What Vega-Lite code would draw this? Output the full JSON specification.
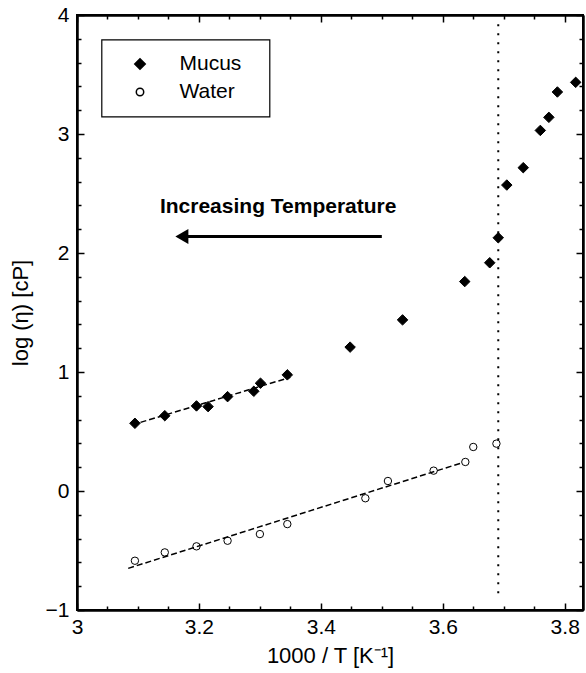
{
  "$schema": "https://vega.github.io/schema/vega-lite/v6.json",
  "width": 506,
  "height": 595,
  "autosize": {"type": "none"},
  "padding": {"left": 77, "top": 15, "right": 3, "bottom": 63},
  "background": "white",
  "config": {
    "font": "Liberation Sans",
    "view": {"stroke": "black", "strokeWidth": 2},
    "axis": {
      "grid": false,
      "domainColor": "black",
      "domainWidth": 2,
      "tickColor": "black",
      "tickWidth": 1.5,
      "labelColor": "black",
      "titleColor": "black",
      "labelFont": "Liberation Sans",
      "titleFont": "Liberation Sans",
      "labelFontSize": 21,
      "titleFontSize": 22,
      "titleFontWeight": "normal",
      "labelFlush": false
    },
    "legend": {
      "orient": "none",
      "legendX": 24.5,
      "legendY": 24.5,
      "strokeColor": "black",
      "strokeWidth": 1.2,
      "fillColor": "white",
      "padding": 14,
      "rowPadding": 6,
      "symbolOffset": 14,
      "labelOffset": 29,
      "labelFont": "Liberation Sans",
      "labelFontSize": 21,
      "labelColor": "black",
      "titleOrient": "right",
      "titlePadding": 14,
      "titleFontSize": 21
    }
  },
  "datasets": {
    "points": [
      {"series": "Mucus", "x": 3.095, "y": 0.569},
      {"series": "Mucus", "x": 3.144, "y": 0.633},
      {"series": "Mucus", "x": 3.196, "y": 0.715},
      {"series": "Mucus", "x": 3.215, "y": 0.709},
      {"series": "Mucus", "x": 3.247, "y": 0.793},
      {"series": "Mucus", "x": 3.290, "y": 0.838},
      {"series": "Mucus", "x": 3.301, "y": 0.906},
      {"series": "Mucus", "x": 3.345, "y": 0.976},
      {"series": "Mucus", "x": 3.448, "y": 1.209},
      {"series": "Mucus", "x": 3.534, "y": 1.438},
      {"series": "Mucus", "x": 3.636, "y": 1.760},
      {"series": "Mucus", "x": 3.677, "y": 1.918},
      {"series": "Mucus", "x": 3.691, "y": 2.128},
      {"series": "Mucus", "x": 3.705, "y": 2.571},
      {"series": "Mucus", "x": 3.732, "y": 2.717},
      {"series": "Mucus", "x": 3.760, "y": 3.030},
      {"series": "Mucus", "x": 3.774, "y": 3.140},
      {"series": "Mucus", "x": 3.788, "y": 3.353},
      {"series": "Mucus", "x": 3.818, "y": 3.434},
      {"series": "Water", "x": 3.095, "y": -0.586},
      {"series": "Water", "x": 3.144, "y": -0.516},
      {"series": "Water", "x": 3.196, "y": -0.465},
      {"series": "Water", "x": 3.247, "y": -0.418},
      {"series": "Water", "x": 3.300, "y": -0.362},
      {"series": "Water", "x": 3.345, "y": -0.278},
      {"series": "Water", "x": 3.473, "y": -0.061},
      {"series": "Water", "x": 3.510, "y": 0.084},
      {"series": "Water", "x": 3.585, "y": 0.171},
      {"series": "Water", "x": 3.637, "y": 0.244},
      {"series": "Water", "x": 3.650, "y": 0.370},
      {"series": "Water", "x": 3.688, "y": 0.398}
    ],
    "fits": [
      {"series": "Mucus", "x": 3.09, "y": 0.555},
      {"series": "Mucus", "x": 3.35, "y": 0.955},
      {"series": "Water", "x": 3.084, "y": -0.65},
      {"series": "Water", "x": 3.629, "y": 0.233}
    ],
    "vline": [{"x": 3.691, "y": -0.86, "y2": 3.93}],
    "arrow": [{"x": 3.17, "x2": 3.5, "y": 2.139}],
    "arrowhead": [{"x": 3.172, "y": 2.139}],
    "label": [{"x": 3.33, "y": 2.384, "text": "Increasing Temperature"}]
  },
  "resolve": {"axis": {"x": "independent", "y": "independent"}},
  "layer": [
    {
      "data": {"name": "points"},
      "mark": {"type": "point", "filled": true, "stroke": "black", "strokeWidth": 1, "opacity": 1},
      "encoding": {
        "x": {
          "field": "x", "type": "quantitative",
          "scale": {"domain": [3, 3.83], "nice": false, "zero": false},
          "axis": {
            "orient": "bottom",
            "values": [3, 3.2, 3.4, 3.6, 3.8],
            "format": "~g",
            "tickSize": -7,
            "labelPadding": 13,
            "title": "1000 / T [K⁻¹]",
            "titlePadding": 8
          }
        },
        "y": {
          "field": "y", "type": "quantitative",
          "scale": {"domain": [-1, 4], "nice": false, "zero": false},
          "axis": {
            "orient": "left",
            "values": [-1, 0, 1, 2, 3, 4],
            "format": "~g",
            "tickSize": -7,
            "labelPadding": 15,
            "title": "log (η) [cP]",
            "titlePadding": 13
          }
        },
        "shape": {
          "field": "series", "type": "nominal",
          "scale": {"domain": ["Mucus", "Water"], "range": ["diamond", "circle"]},
          "legend": {"title": " "}
        },
        "fill": {
          "field": "series", "type": "nominal",
          "scale": {"domain": ["Mucus", "Water"], "range": ["black", "white"]},
          "legend": {"title": " "}
        },
        "size": {
          "field": "series", "type": "nominal",
          "scale": {"domain": ["Mucus", "Water"], "range": [110, 55]},
          "legend": {"title": " "}
        }
      }
    },
    {
      "data": {"name": "fits"},
      "mark": {"type": "line", "color": "black", "strokeWidth": 1.5, "strokeDash": [6, 3]},
      "encoding": {
        "x": {
          "field": "x", "type": "quantitative",
          "axis": {"orient": "top", "values": [3, 3.2, 3.4, 3.6, 3.8], "labels": false, "tickSize": -7, "title": null}
        },
        "y": {
          "field": "y", "type": "quantitative",
          "axis": {"orient": "right", "values": [-1, 0, 1, 2, 3, 4], "labels": false, "tickSize": -7, "title": null}
        },
        "detail": {"field": "series", "type": "nominal"}
      }
    },
    {
      "data": {"name": "vline"},
      "mark": {"type": "rule", "color": "black", "strokeWidth": 2, "strokeDash": [2, 7]},
      "encoding": {
        "x": {
          "field": "x", "type": "quantitative",
          "axis": {"orient": "bottom", "values": [3.05, 3.1, 3.15, 3.25, 3.3, 3.35, 3.45, 3.5, 3.55, 3.65, 3.7, 3.75], "labels": false, "tickSize": -4, "title": null}
        },
        "y": {
          "field": "y", "type": "quantitative",
          "axis": {"orient": "left", "values": [-0.8, -0.6, -0.4, -0.2, 0.2, 0.4, 0.6, 0.8, 1.2, 1.4, 1.6, 1.8, 2.2, 2.4, 2.6, 2.8, 3.2, 3.4, 3.6, 3.8], "labels": false, "tickSize": -4, "title": null}
        },
        "y2": {"field": "y2"}
      }
    },
    {
      "data": {"name": "arrow"},
      "mark": {"type": "rule", "color": "black", "strokeWidth": 3},
      "encoding": {
        "x": {
          "field": "x", "type": "quantitative",
          "axis": {"orient": "top", "values": [3.05, 3.1, 3.15, 3.25, 3.3, 3.35, 3.45, 3.5, 3.55, 3.65, 3.7, 3.75], "labels": false, "tickSize": -4, "title": null}
        },
        "x2": {"field": "x2"},
        "y": {
          "field": "y", "type": "quantitative",
          "axis": {"orient": "right", "values": [-0.8, -0.6, -0.4, -0.2, 0.2, 0.4, 0.6, 0.8, 1.2, 1.4, 1.6, 1.8, 2.2, 2.4, 2.6, 2.8, 3.2, 3.4, 3.6, 3.8], "labels": false, "tickSize": -4, "title": null}
        }
      }
    },
    {
      "data": {"name": "arrowhead"},
      "mark": {"type": "point", "shape": "triangle-left", "filled": true, "color": "black", "size": 225, "opacity": 1},
      "encoding": {
        "x": {"field": "x", "type": "quantitative", "axis": {"orient": "bottom", "values": [], "labels": false, "ticks": false, "domain": false, "title": null}},
        "y": {"field": "y", "type": "quantitative", "axis": {"orient": "left", "values": [], "labels": false, "ticks": false, "domain": false, "title": null}}
      }
    },
    {
      "data": {"name": "label"},
      "mark": {"type": "text", "font": "Liberation Sans", "fontSize": 21, "fontWeight": "bold", "color": "black", "align": "center", "baseline": "middle"},
      "encoding": {
        "x": {"field": "x", "type": "quantitative", "axis": {"orient": "bottom", "values": [], "labels": false, "ticks": false, "domain": false, "title": null}},
        "y": {"field": "y", "type": "quantitative", "axis": {"orient": "left", "values": [], "labels": false, "ticks": false, "domain": false, "title": null}},
        "text": {"field": "text"}
      }
    }
  ]
}
